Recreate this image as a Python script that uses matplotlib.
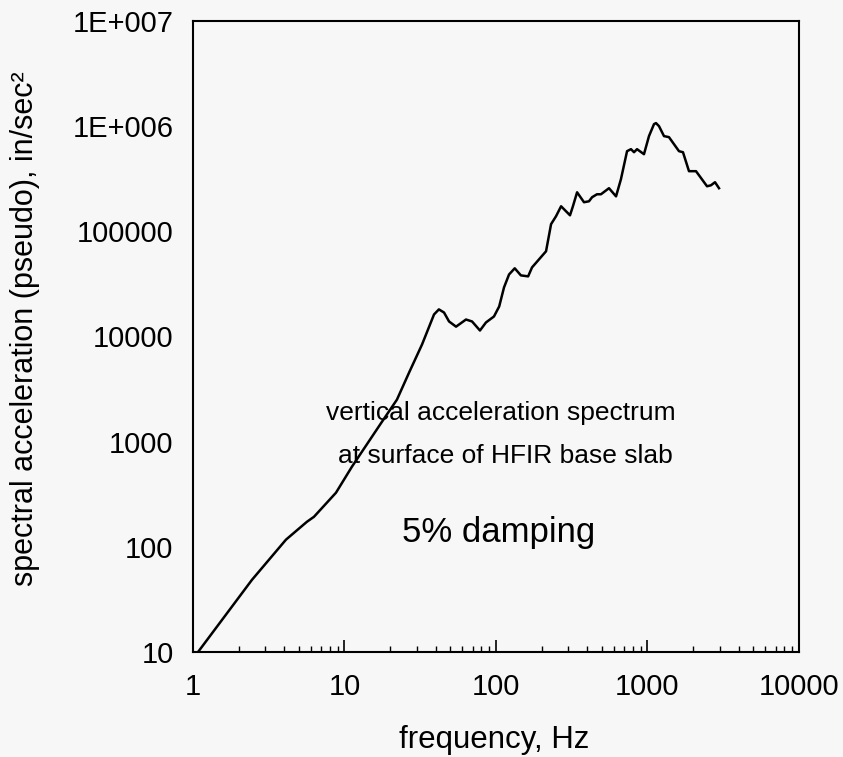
import numpy as np
import matplotlib
matplotlib.use('Agg')
import matplotlib.pyplot as plt

plt.rcParams['font.family'] = ['Liberation Sans', 'DejaVu Sans']

# spectrum (Hz, in/sec^2)
freq = [1.08, 2.45, 4.11, 5.65, 6.29, 8.79, 11.2, 17.7, 22.2, 26.7,
        32.5, 39.0, 42.0, 45.4, 49.0, 54.5, 63.4, 69.5, 78.4, 85.9,
        97.0, 105, 113, 122, 133, 146, 163, 173, 214, 231,
        249, 269, 308, 322, 343, 381, 411, 431, 464, 493,
        557, 620, 668, 733, 778, 815, 853, 948, 1023, 1104,
        1138, 1191, 1285, 1386, 1614, 1715, 1879, 2090, 2188, 2472,
        2624, 2790, 2965]
accel = [10, 48.5, 117, 173, 193, 327, 578, 1550, 2510, 4540,
         8390, 16200, 18100, 16900, 13900, 12400, 14500, 13900, 11400, 13600,
         15500, 19300, 29300, 38900, 44500, 38100, 37300, 45400, 64600, 117000,
         139000, 173000, 142000, 173000, 235000, 189000, 193000, 211000, 225000, 225000,
         257000, 215000, 313000, 578000, 604000, 565000, 604000, 541000, 804000, 1045000,
         1069000, 1000000, 804000, 786000, 578000, 565000, 373000, 373000, 341000, 268000,
         274000, 293000, 257000]

xticks = [1, 10, 100, 1000, 10000]
xticklabels = ['1', '10', '100', '1000', '10000']
yticks = [10, 100, 1000, 1e4, 1e5, 1e6, 1e7]
yticklabels = ['10', '100', '1000', '10000', '100000', '1E+006', '1E+007']

bg = '#f7f7f7'
fig = plt.figure(figsize=(8.43, 7.57), dpi=100, facecolor=bg)
ax = fig.add_axes([0.2289, 0.1387, 0.7189, 0.8336], facecolor=bg)

ax.plot(freq, accel, color='black', linewidth=1.8)

ax.set_xscale('log')
ax.set_yscale('log')
ax.set_xlim(1, 10000)
ax.set_ylim(10, 1e7)

ax.set_xticks(xticks)
ax.set_xticklabels(xticklabels)
ax.set_yticks(yticks)
ax.set_yticklabels(yticklabels)
ax.yaxis.set_minor_locator(matplotlib.ticker.NullLocator())

ax.tick_params(axis='x', which='major', direction='in', length=9, width=1.2,
               labelsize=21, pad=15)
ax.tick_params(axis='x', which='minor', direction='in', length=4, width=1.0)
ax.tick_params(axis='y', which='major', length=0, labelsize=21, pad=14)

for sp in ax.spines.values():
    sp.set_linewidth(1.5)

ax.set_xlabel('frequency, Hz', fontsize=22.5, va='top')
ax.xaxis.set_label_coords(0.497, -0.116)
ax.set_ylabel('spectral acceleration (pseudo), in/sec\u00b2', fontsize=22, va='center')
ax.yaxis.set_label_coords(-0.277, 0.513)

ax.text(0.508, 0.368, 'vertical acceleration spectrum', transform=ax.transAxes,
        ha='center', va='baseline', fontsize=19)
ax.text(0.515, 0.300, 'at surface of HFIR base slab', transform=ax.transAxes,
        ha='center', va='baseline', fontsize=19)
ax.text(0.505, 0.190, '5% damping', transform=ax.transAxes,
        ha='center', va='center', fontsize=25)

fig.savefig('out.png', dpi=100, facecolor=bg)
